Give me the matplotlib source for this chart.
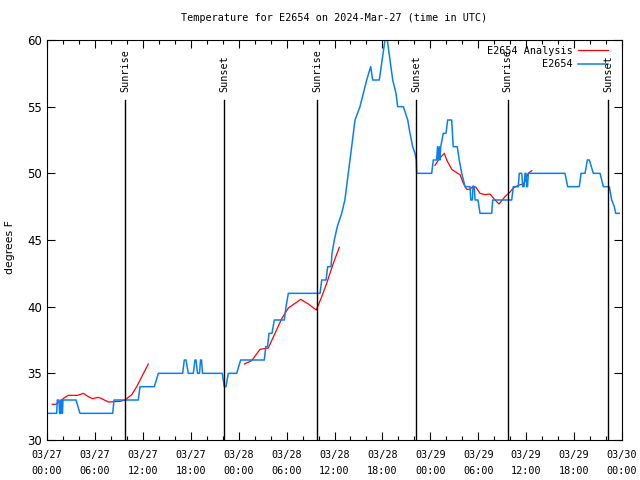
import pandas as pd
import numpy as np
import matplotlib
matplotlib.use("Agg")
import matplotlib.pyplot as plt
import matplotlib.dates as mdates

# hours since 2024-03-27 00:00 UTC
start = pd.Timestamp("2024-03-27 00:00")

# observed temperature (E2654)
obs_hours = [0.0, 1.21, 1.29, 1.50, 1.57, 1.69, 1.75, 1.81, 1.88, 1.94, 2.0, 3.63, 4.13,
             8.23, 8.39, 11.43, 11.65, 13.44, 13.94, 16.99, 17.19, 17.41, 17.69, 18.32,
             18.53, 18.66, 18.85, 19.1, 19.22, 19.35, 19.47, 21.95, 22.2, 22.41, 22.7,
             23.75, 24.25, 27.21, 27.39, 27.61, 27.8, 28.17, 28.46, 29.71, 29.93, 30.22,
             34.19, 34.4, 34.94, 35.15, 35.56, 35.69, 35.98, 36.35, 36.9, 37.3, 37.73,
             38.15, 38.57, 39.19, 39.61, 40.03, 40.53, 40.78, 41.61, 42.32, 42.61, 42.95,
             43.29, 43.7, 43.91, 44.62, 45.17, 45.45, 45.79, 46.08, 46.24, 46.29, 48.17,
             48.37, 48.79, 48.9, 49.0, 49.12, 49.2, 49.3, 49.62, 49.96, 50.17, 50.67,
             50.87, 51.37, 51.62, 51.93, 52.35, 52.97, 53.06, 53.26, 53.34, 53.5, 53.6,
             53.97, 54.22, 55.68, 55.81, 58.19, 58.39, 59.01, 59.14, 59.44, 59.57, 59.74,
             59.86, 59.99, 60.07, 60.17, 60.27, 64.86, 65.2, 66.65, 66.87, 67.37, 67.66,
             67.91, 68.41, 69.25, 69.66, 70.41, 70.71, 71.04, 71.21, 71.66]
obs_temp = [32, 32, 33, 33, 32, 32, 33, 33, 32, 32, 33, 33, 32,
            32, 33, 33, 34, 34, 35, 35, 36, 36, 35, 35,
            36, 36, 35, 35, 36, 36, 35, 35, 34, 34, 35,
            35, 36, 36, 37, 37, 38, 38, 39, 39, 40, 41,
            41, 42, 42, 43, 43, 44, 45, 46, 47, 48, 50,
            52, 54, 55, 56, 57, 58, 57, 57, 60, 60, 58.5,
            57, 56, 55, 55, 54, 53, 52, 51.5, 51, 50, 50,
            51, 51, 52, 51, 52, 51, 52, 53, 53, 54, 54,
            52, 52, 51, 50, 49, 49, 48, 48, 49, 49, 48,
            48, 47, 47, 48, 48, 49, 49, 50, 50, 49, 49,
            50, 50, 49, 49, 50, 50, 49, 49, 50, 50, 51,
            51, 50, 50, 49, 49, 48, 47.5, 47, 47]

# analysis (E2654 Analysis), three separate runs
ana1_hours = [0.66, 1.13, 2.25, 2.67, 3.84, 4.55, 5.17, 5.72, 6.42, 6.85, 7.68, 9.14,
              9.77, 10.61, 11.23, 12.68]
ana1_temp = [32.68, 32.68, 33.2, 33.35, 33.35, 33.5, 33.25, 33.1, 33.2, 33.1, 32.85, 32.9,
             33.0, 33.4, 34.0, 35.7]
ana2_hours = [24.71, 25.63, 26.67, 27.71, 28.55, 29.39, 30.22, 31.77, 32.72, 33.72, 34.4,
              35.02, 35.85, 36.6]
ana2_temp = [35.7, 35.95, 36.8, 36.9, 38.0, 39.1, 39.9, 40.55, 40.2, 39.75, 40.75,
             41.75, 43.25, 44.45]
ana3_hours = [48.59, 49.12, 49.75, 50.05, 50.68, 51.3, 51.72, 52.13, 52.56, 52.97, 53.38,
              53.72, 54.22, 54.85, 55.47, 56.1, 56.6, 57.35, 57.98, 58.39, 59.01, 59.64,
              59.86, 60.27, 60.69]
ana3_temp = [50.6, 51.1, 51.5, 51.0, 50.3, 50.05, 49.9, 49.25, 48.8, 48.8, 49.05,
             48.95, 48.5, 48.4, 48.45, 48.0, 47.7, 48.25, 48.6, 48.9, 49.1, 49.2,
             49.4, 50.0, 50.2]

sun_hours = [9.77, 22.16, 33.81, 46.2, 57.7, 70.25]
sun_labels = ["Sunrise", "Sunset", "Sunrise", "Sunset", "Sunrise", "Sunset"]

def to_time(h):
    return start + pd.to_timedelta(np.array(h), unit="h")

mono = "DejaVu Sans Mono"
fs = 7.3
red = "#ff0000"
blue = "#0a80f0"

fig = plt.figure(figsize=(6.4, 4.8), dpi=100)
ax = fig.add_axes([47 / 640, 40 / 480, 575 / 640, 400 / 480])

ax.plot(to_time(ana1_hours), ana1_temp, color=red, lw=0.9, label="E2654 Analysis")
ax.plot(to_time(ana2_hours), ana2_temp, color=red, lw=0.9)
ax.plot(to_time(ana3_hours), ana3_temp, color=red, lw=0.9)
ax.plot(to_time(obs_hours), obs_temp, color=blue, lw=1.1, label="E2654")

for h, lab in zip(sun_hours, sun_labels):
    t = to_time([h])[0]
    ax.plot([t, t], [30, 55.5], color="black", lw=1.0, zorder=5)
    ax.text(t, 56.1, lab, rotation=90, ha="center", va="bottom",
            fontsize=fs, family=mono, zorder=6)

ax.set_xlim(start, start + pd.Timedelta(hours=72))
ax.set_ylim(30, 60)
ax.xaxis.set_major_locator(mdates.HourLocator(byhour=range(0, 24, 6)))
ax.xaxis.set_minor_locator(mdates.HourLocator(byhour=range(0, 24, 2)))
ax.xaxis.set_major_formatter(mdates.DateFormatter("%m/%d\n%H:%M"))
ax.set_yticks(range(30, 61, 5))
ax.tick_params(which="both", direction="in", top=True, right=True)
ax.tick_params(which="major", length=6, width=0.8)
ax.tick_params(which="minor", length=3, width=0.8)
ax.tick_params(axis="x", which="major", pad=7)
for lab in ax.get_xticklabels():
    lab.set_family(mono)
    lab.set_fontsize(fs)
    lab.set_linespacing(1.75)
for lab in ax.get_yticklabels():
    lab.set_fontsize(8.5)

fig.text(10 / 640, 1 - 247 / 480, "degrees F", rotation=90, ha="center", va="center",
         fontsize=7.8)
ax.set_title("Temperature for E2654 on 2024-Mar-27 (time in UTC)",
             fontsize=fs, family=mono, pad=14)

ax.legend(loc="upper right", bbox_to_anchor=(0.986, 1.0), frameon=False, markerfirst=False,
          prop={"family": mono, "size": fs},
          handlelength=3.0, borderaxespad=0.15, labelspacing=0.35, handletextpad=0.5)

fig.savefig("out.png", dpi=100)
